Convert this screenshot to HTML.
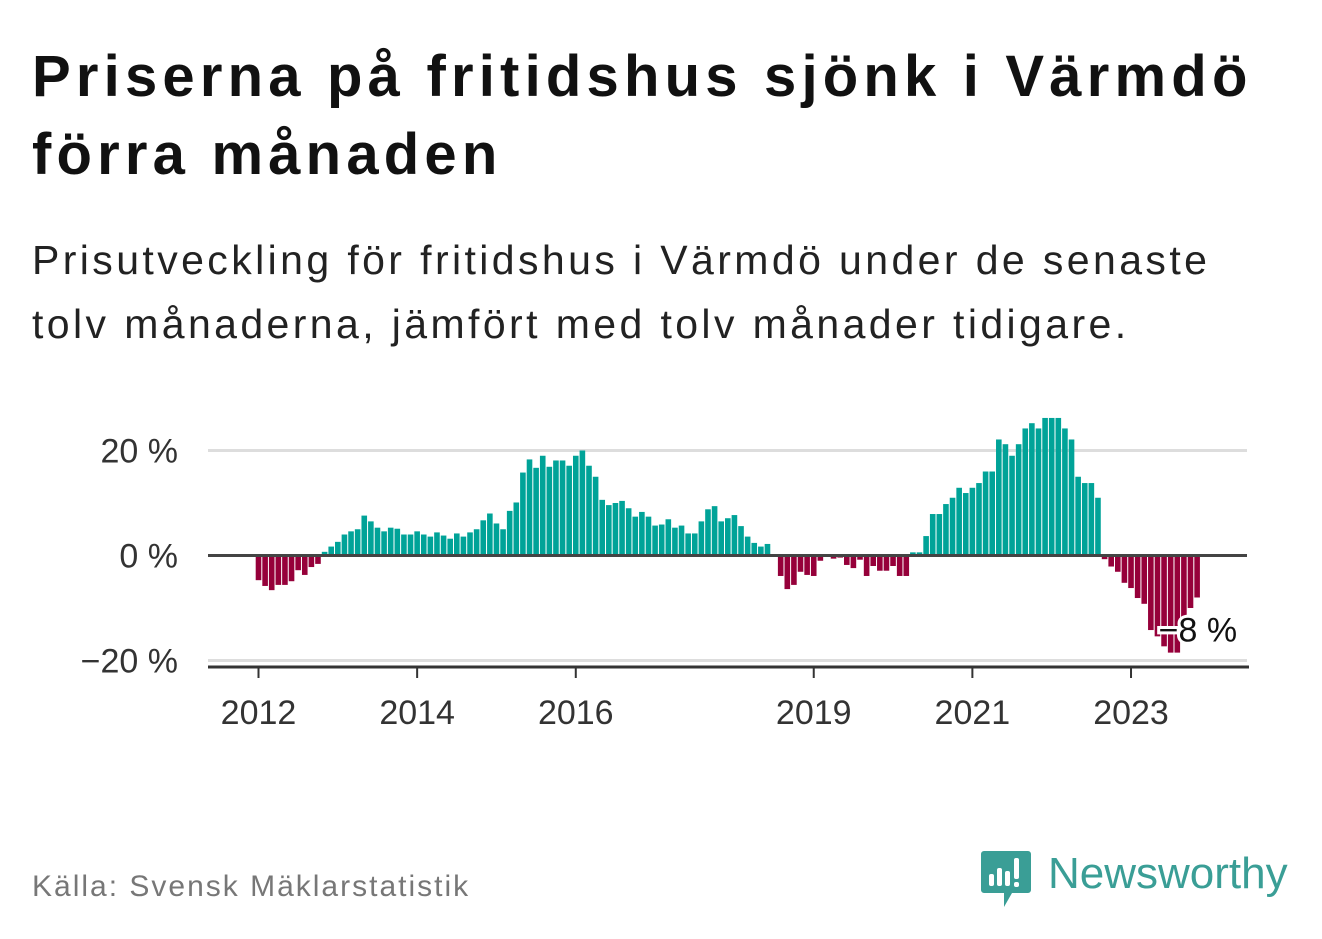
<!DOCTYPE html>
<html><head><meta charset="utf-8"><style>
body{margin:0;width:1322px;height:939px;background:#fff;overflow:hidden;font-family:"Liberation Sans",sans-serif;}
.t{position:absolute;left:32px;top:38px;font-weight:bold;font-size:58px;line-height:78px;color:#111;letter-spacing:5.2px;}
.s{position:absolute;left:32px;top:228px;font-size:41px;line-height:64px;color:#222;letter-spacing:3.4px;}
.src{position:absolute;left:32px;top:870px;font-size:30px;color:#777;letter-spacing:2px;}
</style></head><body>
<div class="t">Priserna på fritidshus sjönk i Värmdö<br>förra månaden</div>
<div class="s">Prisutveckling för fritidshus i Värmdö under de senaste<br>tolv månaderna, jämfört med tolv månader tidigare.</div>
<div class="src">Källa: Svensk Mäklarstatistik</div>
<svg width="1322" height="939" style="position:absolute;left:0;top:0" id="chart">
<g id="grid"></g><g id="bars"></g><g id="axes"></g>
<g>
<path d="M984 851 h44 a3 3 0 0 1 3 3 v36 a3 3 0 0 1 -3 3 h-16 l-8 14 v-14 h-20 a3 3 0 0 1 -3 -3 v-36 a3 3 0 0 1 3 -3z" fill="#3a9e96"/>
<rect x="989" y="874" width="5" height="12" rx="2" fill="#fff"/><rect x="997" y="868" width="5" height="18" rx="2" fill="#fff"/><rect x="1005" y="871" width="5" height="15" rx="2" fill="#fff"/><rect x="1014" y="858" width="5" height="21" rx="2" fill="#fff"/><rect x="1014" y="882" width="5" height="5" rx="2" fill="#fff"/>
<text x="1048" y="888" font-size="44" font-family="Liberation Sans, sans-serif" fill="#3a9e96">Newsworthy</text>
</g>
</svg>
<script>
const values=[-4.7,-5.8,-6.6,-5.6,-5.6,-4.9,-2.8,-3.7,-2.2,-1.6,
0.7,1.7,2.6,4.0,4.6,5.0,7.6,6.5,5.3,4.6,5.3,5.1,4.0,4.0,4.6,4.0,3.6,4.4,3.8,3.2,4.2,3.6,4.4,5.0,6.7,8.0,6.1,5.0,8.5,10.1,15.8,18.3,16.7,19.0,16.9,18.1,18.1,17.1,19.0,
20.0,17.1,15.0,10.6,9.6,10.0,10.4,9.0,7.4,8.3,7.4,5.7,5.9,6.9,5.3,5.7,4.2,4.2,6.5,8.8,9.4,6.5,7.1,7.7,5.6,3.6,2.4,1.7,2.2,
0,-3.9,-6.4,-5.6,-3.1,-3.7,-3.9,-1.0,0,-0.6,-0.4,-1.8,-2.4,-0.8,-3.9,-2.0,-2.9,-2.9,-2.0,-3.9,-3.9,
0.6,0.6,3.7,7.9,7.9,9.8,11.0,12.9,11.9,12.9,13.8,16,16,22.1,21.2,19.0,21.2,24.2,25.2,24.2,26.2,26.2,26.2,24.2,22.1,15,13.8,13.8,11.0,
-0.7,-2.1,-3.1,-5.2,-6.2,-8.1,-9.2,-14.2,-15.4,-17.3,-18.5,-18.5,-12,-10,-8];
const yTicks=[20,0,-20];
const yTickLabels=["20 %","0 %","\u221220 %"];
const xTickYears=[2012,2014,2016,2019,2021,2023];
const lastLabel="\u22128 %";
const NS="http://www.w3.org/2000/svg";
const y=v=>555.5-v*5.25;
const x=i=>258.5+i*6.61;
function mk(tag,attrs,parent){const e=document.createElementNS(NS,tag);for(const k in attrs)e.setAttribute(k,attrs[k]);parent.appendChild(e);return e;}
const grid=document.getElementById('grid'),bars=document.getElementById('bars'),axes=document.getElementById('axes');
yTicks.forEach((t,k)=>{
 if(t!==0){const l=mk('line',{x1:208,x2:1247,y1:y(t),y2:y(t),stroke:'#ddd','stroke-width':3},grid);
 
 }
 const tx=mk('text',{x:178,y:y(t)+12,'text-anchor':'end','font-size':34,fill:'#333'},axes);
 tx.textContent=yTickLabels[k];
 
 
});
values.forEach((v,i)=>{
 if(v===0)return;
 const r=mk('rect',{x:x(i)-2.8,width:5.6,y:v>0?y(v):y(0),height:Math.abs(y(v)-y(0)),fill:v>0?'#00a398':'#96003a'},bars);
 
 
});
const z=mk('line',{x1:208,x2:1247,y1:y(0),y2:y(0),stroke:'#444','stroke-width':3},axes);


const xa=mk('line',{x1:208,x2:1249,y1:667,y2:667,stroke:'#333','stroke-width':3},axes);


xTickYears.forEach(yr=>{
 const px=x((yr-2012)*12);
 const tk=mk('line',{x1:px,x2:px,y1:667,y2:678,stroke:'#333','stroke-width':2},axes);
 
 
 const tx=mk('text',{x:px,y:724,'text-anchor':'middle','font-size':34,fill:'#333'},axes);
 tx.textContent=yr;
 
 
});
const li=values.length-1;
const lb=mk('text',{x:x(li)+40,y:y(values[li])+44,'text-anchor':'end','font-size':34,fill:'#111',stroke:'#fff','stroke-width':6,'paint-order':'stroke'},axes);
lb.textContent=lastLabel;


</script>
</body></html>
